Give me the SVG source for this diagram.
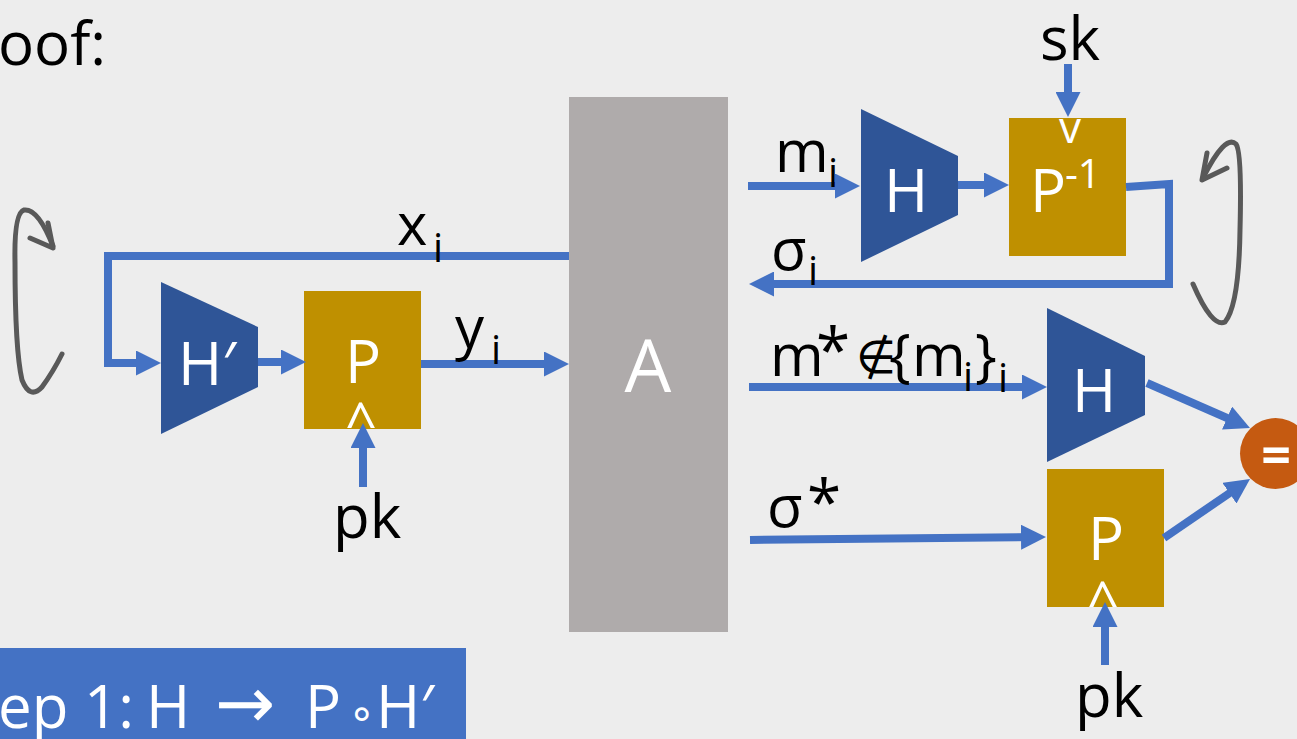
<svg xmlns="http://www.w3.org/2000/svg" width="1297" height="739" viewBox="0 0 1297 739">
<defs>
<style>
.bg{fill:#ededed}
.trap{fill:#2f5597}
.gold{fill:#bf9000}
.adv{fill:#afabab}
.conn{fill:none;stroke:#4472c4;stroke-width:8;marker-end:url(#ah)}
.loop{fill:none;stroke:#595959;stroke-width:5;stroke-linecap:round;stroke-linejoin:round}
.w{fill:#ffffff;font-family:"Open Sans","DejaVu Sans",sans-serif}
.k{fill:#000000;font-family:"Open Sans","DejaVu Sans",sans-serif}
.lbl{font-size:58px}
.sub{font-size:40px}
.big{font-size:60px}
</style>
<marker id="ah" viewBox="0 0 25 25" refX="15" refY="12.5" markerWidth="25" markerHeight="25" markerUnits="userSpaceOnUse" orient="auto">
<path d="M0,0 L25,12.5 L0,25 z" fill="#4472c4"/>
</marker>
</defs>
<rect class="bg" x="0" y="0" width="1297" height="739"/>

<text class="k" x="-2" y="65" font-size="60">oof:</text>

<g id="loop-left">
<path class="loop" d="M53,246 Q38,208 24,210 Q14,213 15,262 Q15,350 22,380 Q30,400 42,387 Q53,372 62,354"/>
<path class="loop" d="M48,223 L53,248 L30,238"/>
</g>
<g id="loop-right">
<path class="loop" d="M1193,284 Q1212,328 1225,322 Q1239,305 1240,230 Q1242,152 1236,144 Q1225,134 1203,178"/>
<path class="loop" d="M1207,153 L1202,180 L1227,168"/>
</g>

<g id="node-A">
<rect class="adv" x="569" y="97" width="159" height="535"/>
<text class="w" x="648" y="392" font-size="74" text-anchor="middle">A</text>
</g>

<g id="node-Hprime">
<polygon class="trap" points="161,282 258,327 258,387 161,434"/>
<text class="w big" x="207" y="385" text-anchor="middle">H′</text>
</g>

<g id="node-P-left">
<rect class="gold" x="304" y="291" width="117" height="138"/>
<text class="w big" x="363" y="383" text-anchor="middle">P</text>
<text class="w" x="361" y="443" font-size="56" text-anchor="middle">^</text>
</g>

<g id="node-H-top">
<polygon class="trap" points="861,109 958,156 958,215 861,262"/>
<text class="w big" x="906" y="212" text-anchor="middle">H</text>
</g>

<g id="node-Pinv">
<rect class="gold" x="1009" y="118" width="117" height="138"/>
<text class="w big" x="1030" y="212">P<tspan font-size="40" x="1065" y="188">-1</tspan></text>
<text class="w" x="1070" y="143" font-size="44" text-anchor="middle">v</text>
</g>

<g id="node-H-bottom">
<polygon class="trap" points="1047,308 1145,356 1145,415 1047,462"/>
<text class="w big" x="1094" y="412" text-anchor="middle">H</text>
</g>

<g id="node-P-bottom">
<rect class="gold" x="1047" y="469" width="117" height="138"/>
<text class="w big" x="1106" y="560" text-anchor="middle">P</text>
<text class="w" x="1103" y="622" font-size="56" text-anchor="middle">^</text>
</g>

<g id="node-eq">
<circle cx="1275.5" cy="453.5" r="35.5" fill="#c55a11"/>
<text class="w" x="1276" y="474" font-size="52" font-weight="bold" text-anchor="middle">=</text>
</g>

<g id="connectors">
<polyline class="conn" points="569,256 108,256 108,363 151,363"/>
<line class="conn" x1="258" y1="362" x2="296" y2="362"/>
<line class="conn" x1="421" y1="364" x2="559" y2="364"/>
<line class="conn" x1="363" y1="487" x2="363" y2="433"/>
<line class="conn" x1="748" y1="186" x2="850" y2="186"/>
<line class="conn" x1="958" y1="185" x2="999" y2="185"/>
<line class="conn" x1="1068" y1="64" x2="1068" y2="107"/>
<polyline class="conn" points="1126,187 1169,184 1169,284 759,284"/>
<line class="conn" x1="749" y1="387" x2="1037" y2="387"/>
<line class="conn" x1="750" y1="540" x2="1036" y2="537"/>
<line class="conn" x1="1147" y1="383" x2="1240.8" y2="424"/>
<line class="conn" x1="1164" y1="538" x2="1241.8" y2="484.7"/>
<line class="conn" x1="1105" y1="665" x2="1105" y2="612"/>
</g>

<g id="labels">
<text class="k lbl" x="775" y="172">m<tspan class="sub" x="828" y="187">i</tspan></text>
<text class="k lbl" x="771" y="270">σ<tspan class="sub" x="808" y="285">i</tspan></text>
<text class="k lbl" x="397" y="245">x<tspan class="sub" x="433" y="262">i</tspan></text>
<text class="k lbl" x="455" y="348">y<tspan class="sub" x="491" y="364">i</tspan></text>
<text class="k" x="1040" y="60" font-size="60">sk</text>
<text class="k" x="333" y="538" font-size="60">pk</text>
<text class="k" x="1075" y="717" font-size="60">pk</text>
<text class="k lbl" x="770" y="376">m<tspan x="816" y="372" font-size="62">*</tspan><tspan x="856" y="373" font-size="46">∉</tspan><tspan x="889" y="376">{</tspan><tspan x="912" y="376">m</tspan><tspan class="sub" x="963" y="391">i</tspan><tspan x="975" y="376">}</tspan><tspan class="sub" x="998" y="392">i</tspan></text>
<text class="k lbl" x="767" y="527">σ<tspan x="807" y="524" font-size="62">*</tspan></text>
</g>

<g id="step-label">
<rect x="0" y="648" width="466" height="91" fill="#4472c4"/>
<text class="w" x="-2" y="728" font-size="60">ep 1:<tspan x="146">H</tspan><tspan x="215" font-size="72">→</tspan><tspan x="305">P</tspan><tspan x="348" font-size="44">∘</tspan><tspan x="376">H′</tspan></text>
</g>
</svg>
